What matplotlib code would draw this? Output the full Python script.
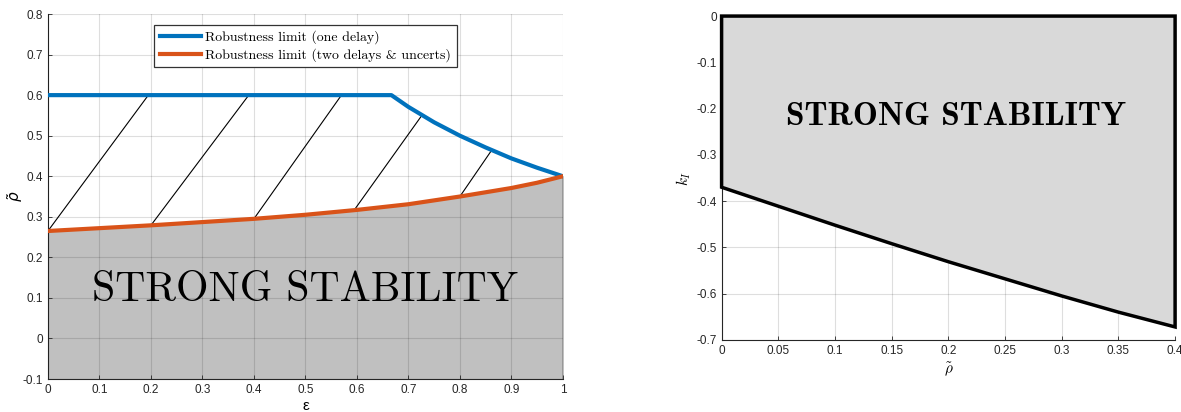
import matplotlib
matplotlib.use("Agg")
import matplotlib.pyplot as plt

# Left panel: robustness limits
eps_one = [0.0, 0.667, 0.7, 0.725, 0.75, 0.8, 0.85, 0.9, 0.95, 1.0]
rho_one = [0.6, 0.6, 0.571, 0.552, 0.533, 0.5, 0.471, 0.444, 0.421, 0.4]

eps_two = [0.0, 0.1, 0.2, 0.3, 0.4, 0.5, 0.6, 0.7, 0.8, 0.9, 0.95, 1.0]
rho_two = [0.265, 0.272, 0.279, 0.287, 0.295, 0.305, 0.317, 0.331, 0.35, 0.371, 0.384, 0.4]

# hatch segments (start on orange curve, end on blue curve)
hatch_x0 = [0.0, 0.2, 0.4, 0.595, 0.8]
hatch_y0 = [0.265, 0.279, 0.295, 0.317, 0.35]
hatch_x1 = [0.195, 0.39, 0.57, 0.725, 0.86]
hatch_y1 = [0.6, 0.6, 0.6, 0.548, 0.461]

# Right panel: k_I bound
rho_r = [0.0, 0.05, 0.1, 0.15, 0.2, 0.25, 0.3, 0.35, 0.4]
kI_low = [-0.37, -0.411, -0.452, -0.492, -0.531, -0.568, -0.605, -0.64, -0.672]

left_xticks = [0, 0.1, 0.2, 0.3, 0.4, 0.5, 0.6, 0.7, 0.8, 0.9, 1]
left_yticks = [-0.1, 0, 0.1, 0.2, 0.3, 0.4, 0.5, 0.6, 0.7, 0.8]
right_xticks = [0, 0.05, 0.1, 0.15, 0.2, 0.25, 0.3, 0.35, 0.4]
right_yticks = [-0.7, -0.6, -0.5, -0.4, -0.3, -0.2, -0.1, 0]

BLUE = "#0072BD"
ORANGE = "#D95319"
TICK_COLOR = "#262626"

plt.rcParams["font.family"] = ["Liberation Sans", "DejaVu Sans"]

fig = plt.figure(figsize=(11.81, 4.12), dpi=100)
ax1 = fig.add_axes([0.0406, 0.080, 0.436, 0.886])
ax2 = fig.add_axes([0.611, 0.175, 0.384, 0.786])


def fmt(v):
    return "%g" % v


def style_axes(ax, below=True):
    ax.spines["top"].set_visible(False)
    ax.spines["right"].set_visible(False)
    ax.grid(True, color="black", alpha=0.13, linewidth=0.8)
    ax.set_axisbelow(below)
    ax.tick_params(direction="in", length=3, labelsize=8.5,
                   colors=TICK_COLOR, width=0.6)
    for s in ("left", "bottom"):
        ax.spines[s].set_color("#262626")
        ax.spines[s].set_linewidth(0.8)


# ---- left panel ----
style_axes(ax1, below=False)  # grid shows through the grey region
ax1.fill_between(eps_two, -0.1, rho_two, color="#c0c0c0", zorder=2)
ax1.plot([1, 1], [-0.1, 0.4], color="black", linewidth=1.0, zorder=3)
for x0, y0, x1, y1 in zip(hatch_x0, hatch_y0, hatch_x1, hatch_y1):
    ax1.plot([x0, x1], [y0, y1], color="black", linewidth=0.8, zorder=3)
ax1.plot(eps_one, rho_one, color=BLUE, linewidth=3,
         label="Robustness limit (one delay)", zorder=4)
ax1.plot(eps_two, rho_two, color=ORANGE, linewidth=3,
         label="Robustness limit (two delays & uncerts)", zorder=4)
ax1.text(0.5, 0.12, "STRONG STABILITY", family="cmr10", fontsize=30,
         ha="center", va="center", zorder=5)
ax1.set_xlim(0, 1)
ax1.set_ylim(-0.1, 0.8)
ax1.set_xticks(left_xticks)
ax1.set_xticklabels([fmt(v) for v in left_xticks])
ax1.set_yticks(left_yticks)
ax1.set_yticklabels([fmt(v) for v in left_yticks])
ax1.set_xlabel("ε", fontsize=11, labelpad=2)
ax1.set_ylabel(r"$\tilde{\rho}$", fontsize=11)
ax1.yaxis.set_label_coords(-0.045, 0.5)
leg = ax1.legend(loc="upper center", bbox_to_anchor=(0.5, 0.99),
                 prop={"family": "cmr10", "size": 10},
                 handlelength=3.0, handletextpad=0.3, borderpad=0.4,
                 labelspacing=0.3, fancybox=False, framealpha=1)
leg.get_frame().set_edgecolor("#333333")
leg.get_frame().set_linewidth(0.9)

# ---- right panel ----
style_axes(ax2)
poly_x = [0.0, 0.4] + rho_r[::-1] + [0.0]
poly_y = [0.0, 0.0] + kI_low[::-1] + [0.0]
ax2.fill(poly_x, poly_y, facecolor="#d9d9d9", edgecolor="black",
         linewidth=2.5, zorder=3, clip_on=False)
ax2.text(0.207, -0.218, "STRONG STABILITY", family="cmb10", fontsize=24,
         ha="center", va="center", zorder=5)
ax2.set_xlim(0, 0.4)
ax2.set_ylim(-0.7, 0)
ax2.set_xticks(right_xticks)
ax2.set_xticklabels([fmt(v) for v in right_xticks])
ax2.set_yticks(right_yticks)
ax2.set_yticklabels([fmt(v) for v in right_yticks])
ax2.set_xlabel(r"$\tilde{\rho}$", fontsize=11, math_fontfamily="cm", labelpad=3)
ax2.set_ylabel(r"$k_I$", fontsize=11, math_fontfamily="cm")
ax2.yaxis.set_label_coords(-0.064, 0.5)

fig.savefig("out.png", dpi=100)
